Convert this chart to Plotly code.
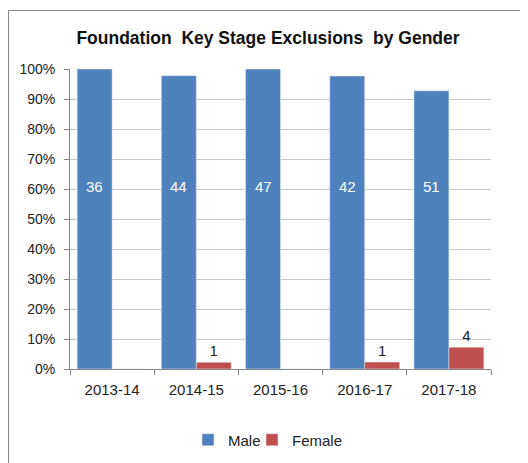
import plotly.graph_objects as go

years = ["2013-14", "2014-15", "2015-16", "2016-17", "2017-18"]
male_counts = [36, 44, 47, 42, 51]
female_counts = [0, 1, 0, 1, 4]

totals = [m + f for m, f in zip(male_counts, female_counts)]
male_share = [m / t for m, t in zip(male_counts, totals)]
female_share = [f / t for f, t in zip(female_counts, totals)]
female_text = [str(f) if f > 0 else "" for f in female_counts]

# page body has an 8px margin, so the figure is drawn 8px right/down
OFF = 8
W, H = 528 - OFF, 463 - OFF
ml, mr, mt, mb = 62, 37, 61, 94
pw, ph = W - ml - mr, H - mt - mb

font = "Liberation Sans"

fig = go.Figure()
fig.add_trace(go.Bar(
    name="Male", x=years, y=male_share,
    marker=dict(color="#4F81BD"),
    cliponaxis=False, legend="legend",
))
fig.add_trace(go.Bar(
    name="Female", x=years, y=female_share,
    text=female_text, textposition="outside",
    textfont=dict(color="#222222", size=15, family=font),
    marker=dict(color="#C0504D"),
    cliponaxis=False, legend="legend2",
))

# male count labels sit at a common height inside the bars
label_level = 0.61
for yr, m in zip(years, male_counts):
    fig.add_annotation(x=yr, y=label_level, text=str(m), showarrow=False,
                       xshift=-17.5, font=dict(color="white", size=15, family=font))


def px_to_paper_x(px):
    return (px - OFF - ml) / pw


def px_to_paper_y(py):
    return (H - mb - (py - OFF)) / ph


fig.add_shape(type="rect", xref="paper", yref="paper",
              x0=px_to_paper_x(8.5), x1=px_to_paper_x(521.5),
              y0=px_to_paper_y(480), y1=px_to_paper_y(10.5),
              line=dict(color="#888888", width=1), fillcolor="rgba(0,0,0,0)",
              layer="below")

legend_common = dict(orientation="h", yanchor="middle", xanchor="left",
                     y=px_to_paper_y(440), font=dict(size=15, family=font),
                     itemwidth=30, bgcolor="rgba(0,0,0,0)")

fig.update_layout(
    width=W, height=H,
    margin=dict(l=ml, r=mr, t=mt, b=mb, autoexpand=False),
    paper_bgcolor="white", plot_bgcolor="white",
    barmode="group", bargap=0.17, bargroupgap=0,
    font=dict(family=font, size=14, color="#222222"),
    title=dict(text="<b>Foundation  Key Stage Exclusions  by Gender</b>",
               x=px_to_paper_x(268), xref="paper", xanchor="center",
               y=1 - (38 - OFF) / H, yanchor="middle",
               font=dict(size=17.5, family=font, color="#111111")),
    showlegend=True,
    legend=dict(x=px_to_paper_x(188), **legend_common),
    legend2=dict(x=px_to_paper_x(252), **legend_common),
    xaxis=dict(showline=True, linecolor="#868686", linewidth=1,
               ticks="outside", tickson="boundaries", ticklen=5,
               tickcolor="#868686", showgrid=False, automargin=False,
               ticklabelstandoff=7, tickfont=dict(size=15)),
    yaxis=dict(range=[0, 1], dtick=0.1, tickformat=".0%",
               showline=True, linecolor="#868686", linewidth=1,
               ticks="outside", ticklen=5, tickcolor="#868686",
               showgrid=True, gridcolor="#C8C8C8", gridwidth=1,
               zeroline=False, automargin=False, ticklabelstandoff=6,
               tickfont=dict(size=14)),
)

fig.write_html("out.html")
